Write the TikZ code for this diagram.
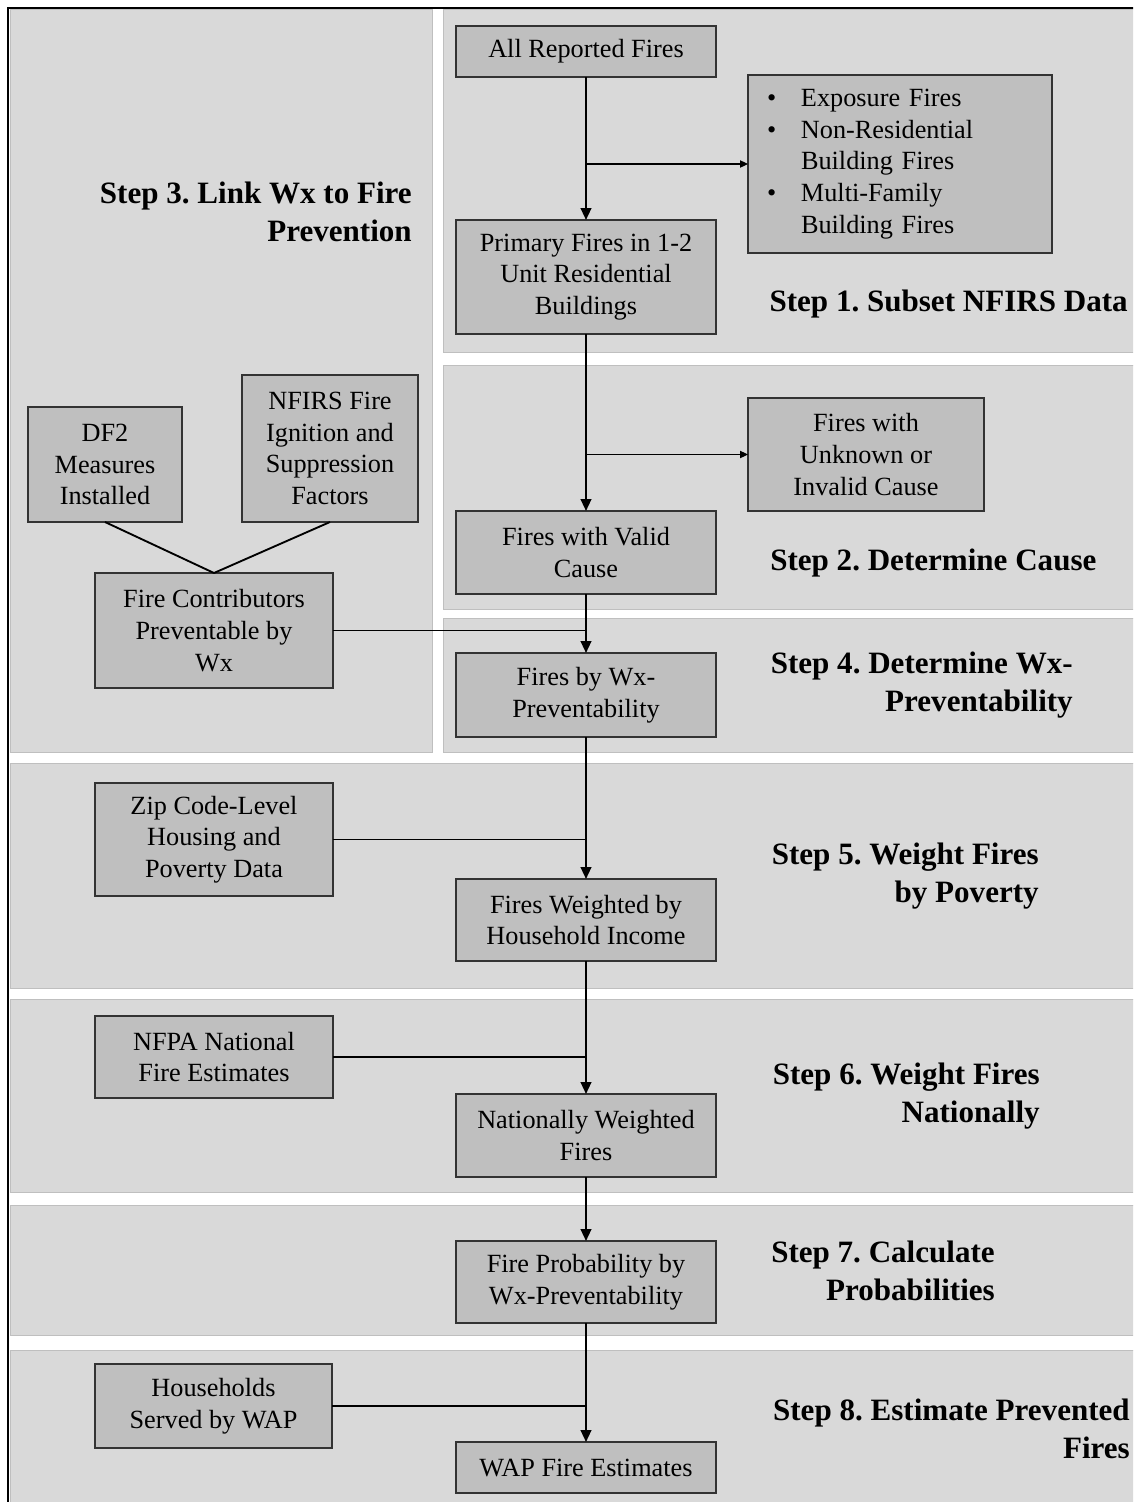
\documentclass[tikz,border=0pt]{standalone}
\usepackage{fontspec}
\setmainfont{Liberation Serif}
\usetikzlibrary{arrows.meta, positioning}

\definecolor{panelfill}{HTML}{D9D9D9}
\definecolor{panelline}{HTML}{BFBFBF}
\definecolor{boxfill}{HTML}{BFBFBF}
\definecolor{boxline}{HTML}{333333}
\frenchspacing

\begin{document}
\begin{tikzpicture}[
		x=0.75pt, y=-0.75pt,
		panel/.style={fill=panelfill, draw=panelline, line width=0.75pt},
		block/.style={rectangle, draw=boxline, line width=1pt, outer sep=0pt, fill=boxfill, minimum width=195pt, align=center, font=\fontsize{19.7}{23.7}\selectfont},
		steplabel/.style={inner sep=0pt, align=right, font=\fontsize{23.3}{28.5}\selectfont\bfseries},
		arrow/.style={-{Triangle[length=9pt, width=8pt]}, line width=1.6pt},
		branch/.style={-{Triangle[length=6pt, width=5.5pt]}, line width=0.8pt},
		link/.style={line width=1.4pt}
		]
		\clip (0,0) rectangle (1133,1502);

		% frame and step panels
		\draw[line width=1.5pt] (8,1510) -- (8,8) -- (1140,8);
		\path[panel] (10,10) rectangle (432,752);
		\path[panel] (443,10) rectangle (1140,352);
		\path[panel] (443,365) rectangle (1140,609);
		\path[panel] (443,618) rectangle (1140,752);
		\path[panel] (10,763) rectangle (1140,988);
		\path[panel] (10,999) rectangle (1140,1192);
		\path[panel] (10,1205) rectangle (1140,1335);
		\path[panel] (10,1350) rectangle (1140,1510);

		% main column
		\node[block, minimum height=38.25pt] (allf) at (586,51.5) {All Reported Fires};
		\node[block, minimum height=85.5pt, below=107.25pt of allf] (prim) {Primary Fires in 1-2\\Unit Residential\\Buildings};
		\node[block, minimum height=62.25pt, below=132.75pt of prim] (valid) {Fires with Valid\\Cause};
		\node[block, minimum height=63pt, below=44.25pt of valid] (wxprev) {Fires by Wx-\\Preventability};
		\node[block, minimum height=61.5pt, below=106.5pt of wxprev] (wtinc) {Fires Weighted by\\Household Income};
		\node[block, minimum height=62.25pt, below=99.75pt of wtinc] (natl) {Nationally Weighted\\Fires};
		\node[block, minimum height=61.5pt, below=48pt of natl] (prob) {Fire Probability by\\Wx-Preventability};
		\node[block, minimum height=38.25pt, below=89.25pt of prob] (wap) {WAP Fire Estimates};

		% side inputs and exclusions
		\node[block, align=left, text width=199.5pt, inner xsep=14.25pt, minimum height=133.5pt] (excl) at (900,164) {\makebox[25.5pt][l]{\textbullet}Exposure Fires\\\makebox[25.5pt][l]{\textbullet}Non-Residential\\\hspace*{25.5pt}Building Fires\\\makebox[25.5pt][l]{\textbullet}Multi-Family\\\hspace*{25.5pt}Building Fires};
		\node[block, minimum width=177pt, minimum height=84.75pt] (unk) at (866,454.5) {Fires with\\Unknown or\\Invalid Cause};
		\node[block, minimum width=115.5pt, minimum height=86.25pt] (df2) at (105,464.5) {DF2\\Measures\\Installed};
		\node[block, minimum width=132pt, minimum height=110.25pt] (nfirs) at (330,448.5) {NFIRS Fire\\Ignition and\\Suppression\\Factors};
		\node[block, minimum width=178.5pt, minimum height=86.25pt] (contrib) at (214,630.5) {Fire Contributors\\Preventable by\\Wx};
		\node[block, minimum width=178.5pt, minimum height=84.75pt] (zip) at (214,839.5) {Zip Code-Level\\Housing and\\Poverty Data};
		\node[block, minimum width=178.5pt, minimum height=61.5pt] (nfpa) at (214,1057) {NFPA National\\Fire Estimates};
		\node[block, minimum width=177.75pt, minimum height=63pt] (hh) at (213.5,1406) {Households\\Served by WAP};

		% step titles
		\node[steplabel, anchor=east] (s3) at (412,212) {Step 3. Link Wx to Fire\\Prevention};
		\node[steplabel, anchor=east] (s1) at (1128,304) {Step 1. Subset NFIRS Data};
		\node[steplabel, anchor=west] (s2) at (770,563) {Step 2. Determine Cause};
		\node[steplabel, anchor=east] (s4) at (1073,685.5) {Step 4. Determine Wx-\\Preventability};
		\node[steplabel, anchor=east] (s5) at (1039,876) {Step 5. Weight Fires\\by Poverty};
		\node[steplabel, anchor=east] (s6) at (1040,1096.5) {Step 6. Weight Fires\\Nationally};
		\node[steplabel, anchor=east] (s7) at (995,1271) {Step 7. Calculate\\Probabilities};
		\node[steplabel, anchor=east] (s8) at (1130,1429) {Step 8. Estimate Prevented\\Fires};

		\draw[arrow] (allf) -- (prim);
		\draw[branch] (allf.south |- excl.west) -- (excl.west);
		\draw[arrow] (prim) -- (valid);
		\draw[branch] (prim.south |- unk.west) -- (unk.west);
		\draw[link] (df2.south) -- (contrib.north);
		\draw[link] (nfirs.south) -- (contrib.north);
		\draw[arrow] (valid) -- (wxprev);
		\draw[link] (contrib.east) -- (valid.south |- contrib.east);
		\draw[arrow] (wxprev) -- (wtinc);
		\draw[link] (zip.east) -- (wxprev.south |- zip.east);
		\draw[arrow] (wtinc) -- (natl);
		\draw[link] (nfpa.east) -- (wtinc.south |- nfpa.east);
		\draw[arrow] (natl) -- (prob);
		\draw[arrow] (prob) -- (wap);
		\draw[link] (hh.east) -- (prob.south |- hh.east);
	\end{tikzpicture}
\end{document}
